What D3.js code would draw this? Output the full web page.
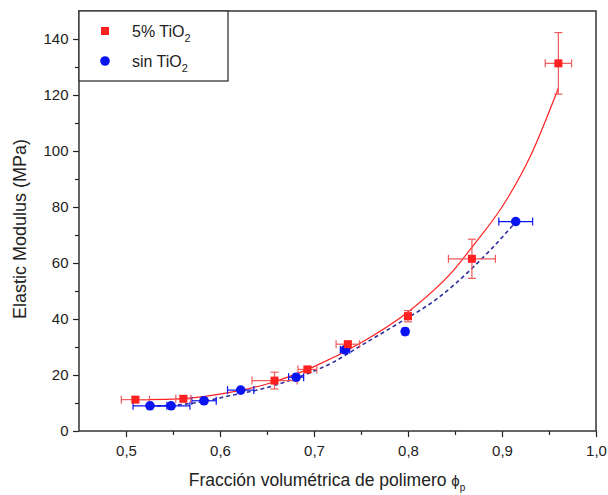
<!DOCTYPE html>
<html><head><meta charset="utf-8">
<script src="https://cdn.jsdelivr.net/npm/d3@7"></script>
<style>body{margin:0;background:#fff}svg{display:block}text{font-family:"Liberation Sans",Arial,sans-serif}</style>
</head><body>
<svg id="c" width="608" height="495"></svg>
<script>
// 5% TiO2 measurements
const redX  = [0.510, 0.561, 0.658, 0.693, 0.736, 0.800, 0.868, 0.960];
const redY  = [11.2, 11.5, 18.0, 22.0, 31.0, 41.0, 61.5, 131.3];
const redXErr = [0.015, 0.008, 0.024, 0.010, 0.0125, 0.003, 0.025, 0.014];
const redYErr = [1.0, 1.0, 3.0, 1.0, 1.0, 2.0, 7.0, 11.0];
// sin TiO2 measurements
const blueX = [0.5255, 0.548, 0.583, 0.622, 0.681, 0.733, 0.797, 0.9146];
const blueY = [9.0, 9.0, 10.8, 14.6, 19.2, 29.0, 35.5, 74.8];
const blueXErr = [0.018, 0.020, 0.013, 0.014, 0.008, 0.005, 0.003, 0.018];
// fitted curves
const redFitX = [0.508, 0.55, 0.60, 0.65, 0.70, 0.75, 0.80, 0.85, 0.87, 0.90, 0.93, 0.96];
const redFitY = [11.2, 11.4, 13.2, 16.8, 23.0, 31.5, 42.5, 58.0, 66.5, 80.0, 98.0, 122.5];
const blueFitX = [0.5255, 0.55, 0.58, 0.61, 0.65, 0.68, 0.72, 0.75, 0.79, 0.83, 0.87, 0.89, 0.913];
const blueFitY = [8.9, 9.2, 10.4, 12.6, 15.5, 18.8, 24.5, 30.5, 38.5, 47.0, 58.7, 65.5, 74.0];
const xTicks = [0.5, 0.6, 0.7, 0.8, 0.9, 1.0];
const xMinor = [0.55, 0.65, 0.75, 0.85, 0.95];
const yTicks = [0, 20, 40, 60, 80, 100, 120, 140];
const yMinor = [10, 30, 50, 70, 90, 110, 130];

const svg = d3.select("#c");
const L = 79, R = 596, T = 11, B = 431;
const x = d3.scaleLinear().domain([0.45, 1.0]).range([L, R]);
const y = d3.scaleLinear().domain([0, 150]).range([B, T]);
const fmt = d => d3.format(".1f")(d).replace(".", ",");

const RED = "#ff2020", REDE = "#f05a5a", BLUE = "#0a14f0", BLUED = "#3030a0";

// axes
const xAx = svg.append("g").attr("transform", `translate(0,${B})`)
  .call(d3.axisBottom(x).tickValues(xTicks).tickFormat(fmt).tickSize(6).tickSizeOuter(0));
const xAxm = svg.append("g").attr("transform", `translate(0,${B})`)
  .call(d3.axisBottom(x).tickValues(xMinor).tickFormat("").tickSize(4).tickSizeOuter(0));
const yAx = svg.append("g").attr("transform", `translate(${L},0)`)
  .call(d3.axisLeft(y).tickValues(yTicks).tickSize(6).tickSizeOuter(0));
const yAxm = svg.append("g").attr("transform", `translate(${L},0)`)
  .call(d3.axisLeft(y).tickValues(yMinor).tickFormat("").tickSize(4).tickSizeOuter(0));
[xAx, xAxm, yAx, yAxm].forEach(g => {
  g.select(".domain").remove();
  g.selectAll("line").attr("stroke", "#222").attr("stroke-width", 1.2);
  g.selectAll("text").attr("font-size", 15).attr("fill", "#222")
   .attr("font-family", '"Liberation Sans",Arial,sans-serif');
});
xAx.selectAll("text").attr("dy", "1.05em");
yAx.selectAll("text").attr("dx", "-0.1em");

// frame
svg.append("rect").attr("x", L).attr("y", T).attr("width", R - L).attr("height", B - T)
  .attr("fill", "none").attr("stroke", "#333").attr("stroke-width", 1.5);

// fit curves
const lineGen = d3.line().x(d => x(d[0])).y(d => y(d[1])).curve(d3.curveMonotoneX);
svg.append("path").datum(d3.zip(blueFitX, blueFitY)).attr("d", lineGen)
  .attr("fill", "none").attr("stroke", BLUED).attr("stroke-width", 1.6).attr("stroke-dasharray", "4,3");
svg.append("path").datum(d3.zip(redFitX, redFitY)).attr("d", lineGen)
  .attr("fill", "none").attr("stroke", RED).attr("stroke-width", 1.2);

// error bars
const cap = 4;
function hbar(g, cx, cy, e, col) {
  const x0 = x(cx - e), x1 = x(cx + e), py = y(cy);
  g.append("line").attr("x1", x0).attr("x2", x1).attr("y1", py).attr("y2", py).attr("stroke", col);
  [x0, x1].forEach(px => g.append("line").attr("x1", px).attr("x2", px).attr("y1", py - cap).attr("y2", py + cap).attr("stroke", col));
}
function vbar(g, cx, cy, e, col) {
  const y0 = y(cy - e), y1 = y(cy + e), px = x(cx);
  g.append("line").attr("x1", px).attr("x2", px).attr("y1", y0).attr("y2", y1).attr("stroke", col);
  [y0, y1].forEach(py => g.append("line").attr("x1", px - cap).attr("x2", px + cap).attr("y1", py).attr("y2", py).attr("stroke", col));
}
const eb = svg.append("g").attr("stroke-width", 1.2);
blueX.forEach((v, i) => hbar(eb, v, blueY[i], blueXErr[i], BLUE));
redX.forEach((v, i) => { hbar(eb, v, redY[i], redXErr[i], REDE); vbar(eb, v, redY[i], redYErr[i], REDE); });

// markers
svg.append("g").selectAll("circle").data(d3.zip(blueX, blueY)).join("circle")
  .attr("cx", d => x(d[0])).attr("cy", d => y(d[1])).attr("r", 4.8).attr("fill", BLUE);
svg.append("g").selectAll("rect").data(d3.zip(redX, redY)).join("rect")
  .attr("x", d => x(d[0]) - 4).attr("y", d => y(d[1]) - 4).attr("width", 8).attr("height", 8).attr("fill", RED);

// legend
svg.append("rect").attr("x", L).attr("y", T).attr("width", 149).attr("height", 70)
  .attr("fill", "#fff").attr("stroke", "#333").attr("stroke-width", 1.3);
svg.append("rect").attr("x", 101).attr("y", 27).attr("width", 8).attr("height", 8).attr("fill", RED);
svg.append("circle").attr("cx", 105).attr("cy", 61).attr("r", 4.8).attr("fill", BLUE);
const legT = (yy, t) => {
  const tx = svg.append("text").attr("x", 132).attr("y", yy).attr("font-size", 16).attr("fill", "#222");
  tx.append("tspan").text(t);
  tx.append("tspan").attr("font-size", 11).attr("dy", 5).text("2");
};
legT(37, "5% TiO");
legT(67, "sin TiO");

// axis titles
const xt = svg.append("text").attr("x", 327).attr("y", 486).attr("text-anchor", "middle")
  .attr("font-size", 17.5).attr("fill", "#222");
xt.append("tspan").text("Fracción volumétrica de polimero ");
xt.append("tspan").text("ϕ").attr("font-size", 15);
xt.append("tspan").text("p").attr("font-size", 10).attr("dy", 5);
svg.append("text").attr("transform", "translate(26,229) rotate(-90)").attr("text-anchor", "middle")
  .attr("font-size", 18).attr("fill", "#222").text("Elastic Modulus (MPa)");
</script>
</body></html>
